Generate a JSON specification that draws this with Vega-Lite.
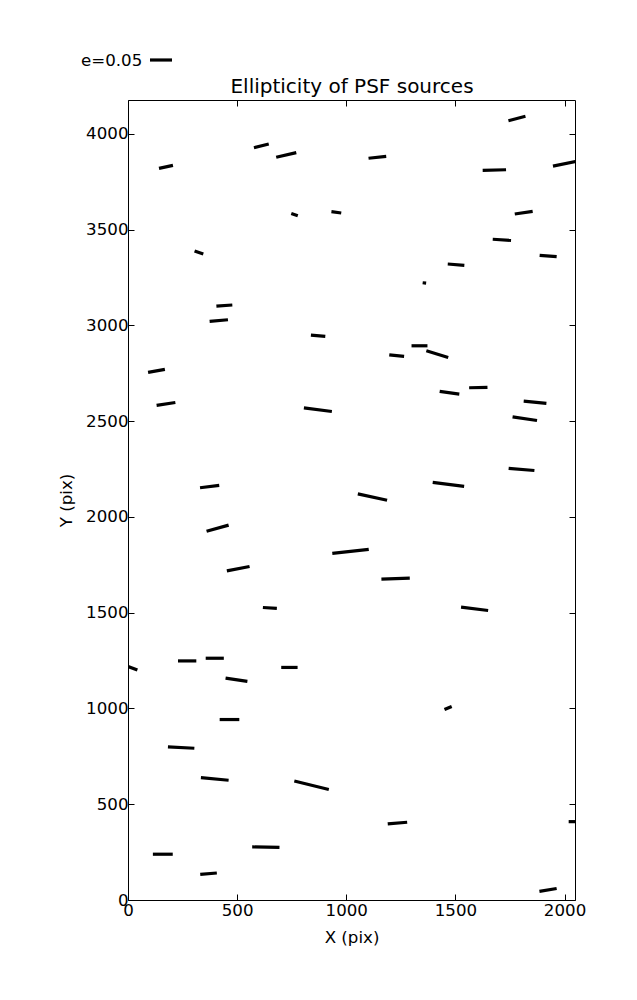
{
  "$schema": "https://vega.github.io/schema/vega-lite/v6.json",
  "autosize": "none",
  "width": 447,
  "height": 800,
  "padding": {"left": 128, "top": 100, "right": 62, "bottom": 100},
  "background": "white",
  "data": {"values": [
    {"x":142,"y":3819,"x2":206,"y2":3835},
    {"x":577,"y":3927,"x2":645,"y2":3946},
    {"x":679,"y":3877,"x2":771,"y2":3901},
    {"x":748,"y":3584,"x2":778,"y2":3572},
    {"x":932,"y":3593,"x2":977,"y2":3586},
    {"x":305,"y":3388,"x2":345,"y2":3372},
    {"x":1743,"y":4068,"x2":1821,"y2":4091},
    {"x":1102,"y":3872,"x2":1183,"y2":3882},
    {"x":1625,"y":3809,"x2":1732,"y2":3812},
    {"x":1947,"y":3831,"x2":2060,"y2":3857},
    {"x":1772,"y":3581,"x2":1854,"y2":3595},
    {"x":1671,"y":3449,"x2":1755,"y2":3443},
    {"x":1886,"y":3365,"x2":1964,"y2":3358},
    {"x":1465,"y":3320,"x2":1541,"y2":3313},
    {"x":1350,"y":3222,"x2":1366,"y2":3220},
    {"x":405,"y":3100,"x2":478,"y2":3106},
    {"x":374,"y":3020,"x2":458,"y2":3029},
    {"x":838,"y":2949,"x2":904,"y2":2942},
    {"x":92,"y":2754,"x2":169,"y2":2770},
    {"x":131,"y":2582,"x2":217,"y2":2597},
    {"x":806,"y":2569,"x2":934,"y2":2550},
    {"x":330,"y":2152,"x2":418,"y2":2164},
    {"x":1197,"y":2846,"x2":1265,"y2":2838},
    {"x":1299,"y":2893,"x2":1372,"y2":2893},
    {"x":1367,"y":2867,"x2":1467,"y2":2832},
    {"x":1428,"y":2655,"x2":1518,"y2":2641},
    {"x":1563,"y":2674,"x2":1647,"y2":2676},
    {"x":1813,"y":2604,"x2":1917,"y2":2592},
    {"x":1762,"y":2522,"x2":1874,"y2":2503},
    {"x":1744,"y":2253,"x2":1862,"y2":2242},
    {"x":1396,"y":2180,"x2":1540,"y2":2159},
    {"x":1053,"y":2120,"x2":1187,"y2":2087},
    {"x":360,"y":1925,"x2":461,"y2":1957},
    {"x":453,"y":1718,"x2":557,"y2":1741},
    {"x":618,"y":1527,"x2":682,"y2":1522},
    {"x":936,"y":1809,"x2":1103,"y2":1830},
    {"x":229,"y":1248,"x2":313,"y2":1248},
    {"x":356,"y":1262,"x2":439,"y2":1262},
    {"x":702,"y":1214,"x2":777,"y2":1214},
    {"x":447,"y":1158,"x2":547,"y2":1141},
    {"x":-20,"y":1228,"x2":43,"y2":1200},
    {"x":1161,"y":1675,"x2":1291,"y2":1680},
    {"x":1526,"y":1529,"x2":1650,"y2":1511},
    {"x":420,"y":942,"x2":510,"y2":942},
    {"x":183,"y":799,"x2":304,"y2":792},
    {"x":334,"y":639,"x2":461,"y2":625},
    {"x":762,"y":621,"x2":920,"y2":577},
    {"x":114,"y":239,"x2":205,"y2":239},
    {"x":331,"y":134,"x2":407,"y2":141},
    {"x":569,"y":277,"x2":694,"y2":275},
    {"x":1450,"y":994,"x2":1483,"y2":1010},
    {"x":1190,"y":397,"x2":1279,"y2":406},
    {"x":2019,"y":409,"x2":2060,"y2":409},
    {"x":1885,"y":45,"x2":1964,"y2":60}
  ]},
  "layer": [
    {
      "mark": {"type": "rule", "strokeWidth": 3.2, "strokeCap": "butt", "clip": true},
      "encoding": {
        "x": {"field": "x", "type": "quantitative", "scale": {"domain": [0, 2048], "nice": false, "zero": false},
              "axis": {"orient": "bottom", "values": [0, 500, 1000, 1500, 2000], "format": "d", "title": "X (pix)", "labelPadding": 8, "titlePadding": 11}},
        "y": {"field": "y", "type": "quantitative", "scale": {"domain": [0, 4176], "nice": false, "zero": false},
              "axis": {"orient": "left", "values": [0, 500, 1000, 1500, 2000, 2500, 3000, 3500, 4000], "format": "d", "title": "Y (pix)", "labelPadding": 6, "titlePadding": 10}},
        "x2": {"field": "x2"},
        "y2": {"field": "y2"},
        "color": {"datum": "e=0.05", "scale": {"range": ["black"]},
                  "legend": {"orient": "none", "legendX": -47, "legendY": -53, "title": "e=0.05", "titleOrient": "left", "titleAnchor": "middle", "titleBaseline": "line-top", "titleLineHeight": 8, "labelExpr": "''", "padding": 0, "symbolType": "stroke", "symbolSize": 484, "symbolStrokeWidth": 3.2, "symbolStrokeColor": "black", "titleFont": "DejaVu Sans", "titleFontSize": 16.67, "titleFontWeight": "normal", "titleColor": "black", "titlePadding": 5}}
      }
    },
    {
      "mark": {"type": "rule", "opacity": 0},
      "encoding": {
        "x": {"field": "x", "type": "quantitative", "axis": {"orient": "top", "values": [0, 500, 1000, 1500, 2000], "labels": false, "title": "Ellipticity of PSF sources", "titleFontSize": 20, "titleBaseline": "alphabetic", "titlePadding": 7}},
        "y": {"field": "y", "type": "quantitative", "axis": {"orient": "right", "values": [0, 500, 1000, 1500, 2000, 2500, 3000, 3500, 4000], "labels": false, "title": null}},
        "x2": {"field": "x2"},
        "y2": {"field": "y2"}
      }
    }
  ],
  "resolve": {"axis": {"x": "independent", "y": "independent"}},
  "config": {
    "view": {"stroke": null},
    "axis": {"grid": false, "domainColor": "black", "domainWidth": 1, "tickColor": "black", "tickWidth": 1, "tickSize": -6,
             "labelFont": "DejaVu Sans", "labelFontSize": 16.67, "labelColor": "black", "labelFlush": false, "labelOverlap": false,
             "titleFont": "DejaVu Sans", "titleFontSize": 16.67, "titleFontWeight": "normal", "titleColor": "black"}
  }
}
